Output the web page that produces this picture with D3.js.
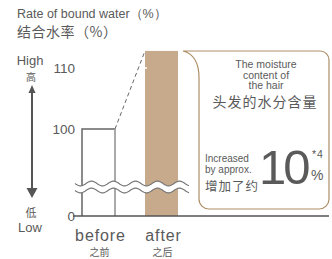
<!DOCTYPE html>
<html><head><meta charset="utf-8">
<script src="https://cdn.jsdelivr.net/npm/d3@7"></script>
<style>
body{margin:0;background:#fff;}
text{font-family:"Liberation Sans",Arial,sans-serif;fill:#5a5a5a;}
.zh{font-family:"Noto Sans CJK SC",sans-serif;}
</style></head>
<body>
<svg id="c" width="332" height="259"></svg>
<script>
const categories = ["before", "after"];
const categoriesZh = ["之前", "之后"];
const values = [100, 112.8];
const tickValues = [0, 100, 110];
const tickLabels = ["0", "100", "110"];
const titleLines = ["Rate of bound water（%）", "结合水率（%）"];
const boxLines = ["The moisture", "content of", "the hair"];
const boxZh = "头发的水分含量";

const svg = d3.select("#c");
const x = d3.scaleBand().domain(categories).range([82, 178]).paddingInner(30/63).paddingOuter(0);
const y = d3.scaleLinear().domain([0, 100, 110]).range([216, 129, 68]);
const brown = "#c6aa8b";

// title
svg.append("text").attr("x", 17).attr("y", 18).attr("font-size", 12.5).text(titleLines[0]);
svg.append("text").attr("class", "zh").attr("x", 17).attr("y", 37).attr("font-size", 14).attr("letter-spacing", 0.5).text(titleLines[1]);

// high/low arrow
svg.append("text").attr("x", 30).attr("y", 65).attr("font-size", 13).attr("text-anchor", "middle").text("High");
svg.append("text").attr("class", "zh").attr("x", 31).attr("y", 81).attr("font-size", 10).attr("text-anchor", "middle").text("高");
svg.append("line").attr("x1", 32).attr("x2", 32).attr("y1", 90).attr("y2", 190).attr("stroke", "#555").attr("stroke-width", 2);
svg.append("path").attr("d", "M32,85 L28.5,93 L35.5,93 Z").attr("fill", "#555");
svg.append("path").attr("d", "M32,198 L26.5,188 L37.5,188 Z").attr("fill", "#555");
svg.append("text").attr("class", "zh").attr("x", 31).attr("y", 217).attr("font-size", 11).attr("text-anchor", "middle").text("低");
svg.append("text").attr("x", 30).attr("y", 232).attr("font-size", 13).attr("text-anchor", "middle").text("Low");

// ticks
svg.selectAll("text.tick").data(tickValues).join("text").attr("class", "tick")
  .attr("x", 75).attr("y", d => y(d) + 5).attr("text-anchor", "end").attr("font-size", 13.5)
  .text((d, i) => tickLabels[i]);

// bars
const b = categories[0], a = categories[1];
svg.append("rect").attr("x", x(a)).attr("y", y(values[1])).attr("width", x.bandwidth()).attr("height", y(0) - y(values[1])).attr("fill", brown);
svg.append("line").attr("x1", x(a)).attr("x2", x(a) + 2).attr("y1", y(110)).attr("y2", y(110)).attr("stroke", "#fff").attr("stroke-width", 1.5);
svg.append("rect").attr("x", x(b)).attr("y", y(values[0])).attr("width", x.bandwidth()).attr("height", y(0) - y(values[0])).attr("fill", "#fff");
svg.append("path").attr("d", `M${x(b)},${y(0)} V${y(values[0])} H${x(b) + x.bandwidth()}`).attr("fill", "none").attr("stroke", "#666").attr("stroke-width", 1.5);
svg.append("line").attr("x1", x(b) + x.bandwidth()).attr("x2", x(b) + x.bandwidth()).attr("y1", y(values[0])).attr("y2", y(0)).attr("stroke", "#a0a0a0").attr("stroke-width", 1.8);

// dashed connector
svg.append("line").attr("x1", x(b) + x.bandwidth()).attr("y1", y(values[0])).attr("x2", x(a)).attr("y2", y(values[1]))
  .attr("stroke", "#666").attr("stroke-width", 1).attr("stroke-dasharray", "4,3");

// wave break
const wl = 22, amp = 2.3, x0 = 75, x1 = 189;
function wave(yc) { const pts = []; for (let xx = x0; xx <= x1; xx += 1) pts.push([xx, yc + amp * Math.sin((xx - x0) / wl * 2 * Math.PI)]); return pts; }
const up = wave(183.5), lo = wave(190.5);
svg.append("path").attr("d", d3.line()(up.concat(lo.slice().reverse())) + "Z").attr("fill", "#fff");
[up, lo].forEach(p => svg.append("path").attr("d", d3.line()(p)).attr("fill", "none").attr("stroke", "#777").attr("stroke-width", 1.2));

// baseline
svg.append("line").attr("x1", 73).attr("x2", 329).attr("y1", y(0)).attr("y2", y(0)).attr("stroke", "#555").attr("stroke-width", 1.3);

// category labels
svg.selectAll("text.cat").data(categories).join("text").attr("class", "cat")
  .attr("x", d => x(d) + x.bandwidth() / 2 + 2).attr("y", 241).attr("text-anchor", "middle")
  .attr("font-size", 16).attr("letter-spacing", 0.9).text(d => d);
svg.selectAll("text.catzh").data(categoriesZh).join("text").attr("class", "catzh zh")
  .attr("x", (d, i) => x(categories[i]) + x.bandwidth() / 2 + 1).attr("y", 255.5).attr("text-anchor", "middle")
  .attr("font-size", 10).text(d => d);

// callout box
svg.append("path").attr("d", "M199,78 Q199,55 183,51 H320 A9,9 0 0 1 329,60 V199 A10,10 0 0 1 319,209 H209 A10,10 0 0 1 199,199 Z")
  .attr("fill", "#fff").attr("stroke", "#ad8e66").attr("stroke-width", 1.2);
svg.selectAll("text.bl").data(boxLines).join("text").attr("class", "bl")
  .attr("x", 266).attr("y", (d, i) => 68 + i * 10.5).attr("text-anchor", "middle").attr("font-size", 10.5).text(d => d);
svg.append("text").attr("class", "zh").attr("x", 265).attr("y", 107).attr("text-anchor", "middle").attr("font-size", 14).attr("letter-spacing", 1).text(boxZh);
svg.append("text").attr("x", 205).attr("y", 162).attr("font-size", 10).text("Increased");
svg.append("text").attr("x", 205).attr("y", 173).attr("font-size", 10).text("by approx.");
svg.append("text").attr("class", "zh").attr("x", 205).attr("y", 190.5).attr("font-size", 12.5).attr("letter-spacing", 1).text("增加了约");
svg.append("text").attr("x", 259).attr("y", 184).attr("font-size", 49).attr("letter-spacing", -3).text("10");
svg.append("text").attr("x", 312).attr("y", 158).attr("font-size", 10.5).attr("letter-spacing", 1).text("*4");
svg.append("text").attr("x", 311).attr("y", 180).attr("font-size", 14).text("%");
</script>
</body></html>
